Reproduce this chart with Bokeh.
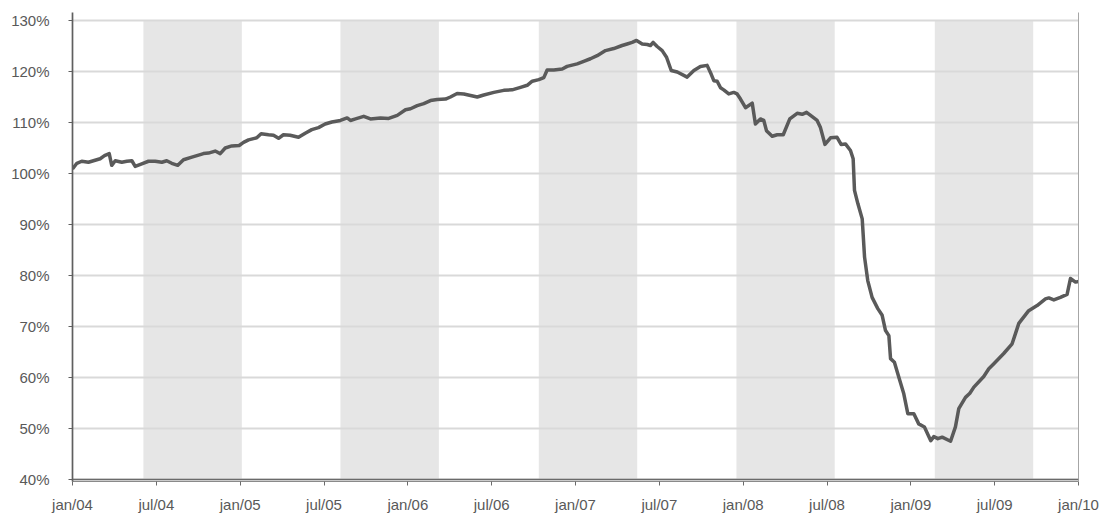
from bokeh.plotting import figure
from bokeh.models import (Range1d, FixedTicker, PrintfTickFormatter, LinearAxis,
                          Span, ColumnDataSource)
from bokeh.embed import file_html
from bokeh.resources import INLINE

# ---- data (decimal year, index %) ----
years = [2004.000, 2004.026, 2004.055, 2004.095, 2004.125, 2004.165, 2004.191, 2004.219, 2004.234, 2004.255,
         2004.294, 2004.324, 2004.354, 2004.374, 2004.413, 2004.453, 2004.493, 2004.533, 2004.562, 2004.592,
         2004.628, 2004.662, 2004.712, 2004.762, 2004.781, 2004.811, 2004.851, 2004.881, 2004.911, 2004.950,
         2004.994, 2005.020, 2005.050, 2005.099, 2005.125, 2005.169, 2005.199, 2005.229, 2005.258, 2005.298,
         2005.348, 2005.388, 2005.427, 2005.467, 2005.507, 2005.547, 2005.598, 2005.638, 2005.658, 2005.688,
         2005.737, 2005.777, 2005.837, 2005.886, 2005.937, 2005.986, 2006.016, 2006.056, 2006.095, 2006.135,
         2006.175, 2006.225, 2006.254, 2006.294, 2006.334, 2006.374, 2006.414, 2006.453, 2006.513, 2006.572,
         2006.622, 2006.672, 2006.712, 2006.742, 2006.781, 2006.811, 2006.831, 2006.871, 2006.921, 2006.950,
         2007.010, 2007.049, 2007.089, 2007.129, 2007.179, 2007.228, 2007.278, 2007.308, 2007.338, 2007.364,
         2007.398, 2007.428, 2007.447, 2007.463, 2007.487, 2007.517, 2007.543, 2007.571, 2007.607, 2007.666,
         2007.706, 2007.745, 2007.785, 2007.809, 2007.825, 2007.845, 2007.865, 2007.884, 2007.914, 2007.944,
         2007.964, 2007.984, 2008.014, 2008.054, 2008.073, 2008.103, 2008.123, 2008.139, 2008.173, 2008.203,
         2008.239, 2008.278, 2008.322, 2008.352, 2008.378, 2008.402, 2008.441, 2008.461, 2008.488, 2008.521,
         2008.560, 2008.584, 2008.610, 2008.640, 2008.656, 2008.664, 2008.684, 2008.710, 2008.724, 2008.743,
         2008.769, 2008.803, 2008.829, 2008.849, 2008.869, 2008.879, 2008.902, 2008.928, 2008.958, 2008.982,
         2009.018, 2009.047, 2009.081, 2009.119, 2009.137, 2009.161, 2009.187, 2009.237, 2009.266, 2009.286,
         2009.326, 2009.352, 2009.376, 2009.435, 2009.465, 2009.495, 2009.554, 2009.604, 2009.624, 2009.644,
         2009.703, 2009.753, 2009.803, 2009.823, 2009.853, 2009.892, 2009.932, 2009.952, 2009.982, 2010.000]

values = [100.9, 102.0, 102.4, 102.2, 102.5, 102.9, 103.5, 103.9, 101.6, 102.5,
          102.2, 102.4, 102.5, 101.4, 101.9, 102.4, 102.4, 102.2, 102.5, 102.0,
          101.6, 102.7, 103.2, 103.7, 103.9, 104.0, 104.4, 103.9, 105.0, 105.4,
          105.5, 106.1, 106.6, 107.0, 107.8, 107.6, 107.5, 106.9, 107.6, 107.5,
          107.1, 107.9, 108.6, 109.0, 109.7, 110.1, 110.4, 110.9, 110.4, 110.7,
          111.2, 110.7, 110.9, 110.8, 111.4, 112.5, 112.7, 113.3, 113.7, 114.3,
          114.5, 114.6, 115.0, 115.7, 115.6, 115.3, 115.0, 115.4, 115.9, 116.3,
          116.4, 116.9, 117.3, 118.1, 118.4, 118.8, 120.3, 120.3, 120.5, 121.0,
          121.5, 122.0, 122.5, 123.1, 124.1, 124.5, 125.1, 125.4, 125.7, 126.1,
          125.4, 125.3, 125.1, 125.7, 124.9, 124.1, 122.8, 120.2, 119.9, 118.9,
          120.2, 121.0, 121.2, 119.5, 118.2, 118.1, 116.8, 116.4, 115.6, 115.9,
          115.6, 114.6, 112.9, 113.8, 109.7, 110.7, 110.4, 108.4, 107.3, 107.6,
          107.6, 110.7, 111.8, 111.6, 112.0, 111.4, 110.4, 109.0, 105.7, 107.0,
          107.1, 105.7, 105.8, 104.5, 102.9, 96.7, 94.1, 91.1, 83.6, 79.0,
          75.7, 73.5, 72.2, 69.2, 68.2, 63.7, 63.0, 60.1, 56.8, 52.9,
          52.9, 50.9, 50.3, 47.6, 48.4, 48.0, 48.3, 47.5, 50.3, 53.9,
          56.1, 56.9, 58.1, 60.2, 61.7, 62.7, 64.7, 66.6, 68.6, 70.6,
          73.1, 74.1, 75.4, 75.6, 75.2, 75.7, 76.3, 79.4, 78.7, 78.8]

band_start = [2004.423, 2005.598, 2006.781, 2007.960, 2009.143]
band_end = [2005.010, 2006.185, 2007.368, 2008.546, 2009.730]

x_ticks = [2004.0, 2004.5, 2005.0, 2005.5, 2006.0, 2006.5, 2007.0, 2007.5,
           2008.0, 2008.5, 2009.0, 2009.5, 2010.0]
x_labels = ["jan/04", "jul/04", "jan/05", "jul/05", "jan/06", "jul/06", "jan/07",
            "jul/07", "jan/08", "jul/08", "jan/09", "jul/09", "jan/10"]
y_ticks = [40, 50, 60, 70, 80, 90, 100, 110, 120, 130]

FONT = "Liberation Sans"
TEXT = "#595959"

p = figure(width=1100, height=515, output_backend="svg", toolbar_location=None,
           x_range=Range1d(2004.0, 2010.0), y_range=Range1d(39.6, 131.57),
           min_border_left=72, min_border_right=22, min_border_top=12, min_border_bottom=34)
p.outline_line_color = None
p.background_fill_color = "white"
p.border_fill_color = "white"

# shaded bands
bands = ColumnDataSource(dict(left=band_start, right=band_end,
                              bottom=[40] * len(band_start), top=[130] * len(band_start)))
p.quad(left="left", right="right", bottom="bottom", top="top", source=bands,
       fill_color="#e6e6e6", line_color=None, level="underlay")

# grid
p.xgrid.visible = False
p.ygrid.ticker = FixedTicker(ticks=y_ticks)
p.ygrid.grid_line_color = "#d9d9d9"
p.ygrid.grid_line_width = 2
p.ygrid.level = "underlay"

p.add_layout(Span(location=40, dimension="width", line_color="#6a6a6a", line_width=1.5))

# line
p.line(years, values, line_color="#5a5a5a", line_width=3.5, line_join="round")

# axes
xa = p.xaxis[0]
xa.ticker = FixedTicker(ticks=x_ticks)
xa.major_label_overrides = {t: l for t, l in zip(x_ticks, x_labels)}
xa.axis_line_color = "#8a8a8a"
xa.axis_line_width = 1
xa.major_tick_line_color = "#6a6a6a"
xa.major_tick_in = 0
xa.major_tick_out = 4
xa.minor_tick_line_color = None
xa.major_label_standoff = 10
xa.major_label_text_font = FONT
xa.major_label_text_font_size = "15px"
xa.major_label_text_color = TEXT

ya = p.yaxis[0]
ya.ticker = FixedTicker(ticks=y_ticks)
ya.formatter = PrintfTickFormatter(format="%d%%")
ya.axis_line_color = "#5f5f5f"
ya.axis_line_width = 1.7
ya.major_tick_line_color = "#5f5f5f"
ya.major_tick_in = 0
ya.major_tick_out = 4
ya.minor_tick_line_color = None
ya.major_label_standoff = 19
ya.major_label_text_font = FONT
ya.major_label_text_font_size = "15px"
ya.major_label_text_color = TEXT

ra = LinearAxis(axis_line_color="#a6a6a6", axis_line_width=1,
                major_tick_line_color=None, minor_tick_line_color=None,
                major_label_text_font_size="0px", major_label_text_color=None)
p.add_layout(ra, "right")

open("out.html", "w").write(file_html(p, INLINE))
